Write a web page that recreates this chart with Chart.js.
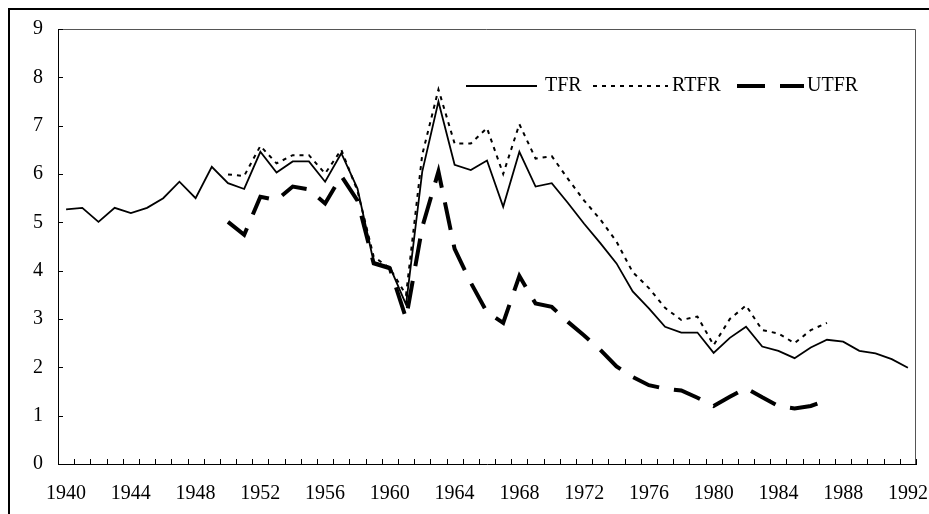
<!DOCTYPE html>
<html>
<head>
<meta charset="utf-8">
<script src="https://cdn.jsdelivr.net/npm/chart.js@4/dist/chart.umd.min.js"></script>
<style>
  html, body { margin: 0; padding: 0; background: #fff; overflow: hidden; }
  #wrap { position: relative; width: 929px; height: 514px; }
  #frame { position: absolute; left: 8px; top: 8px; width: 940px; height: 530px; border: 2px solid #000; box-sizing: border-box; }
  #chart { position: absolute; left: 0; top: 0; }
</style>
</head>
<body>
<div id="wrap">
  <div id="frame"></div>
  <canvas id="chart" width="929" height="514"></canvas>
</div>
<script>
var years = ['1940', '1941', '1942', '1943', '1944', '1945', '1946', '1947', '1948', '1949',
  '1950', '1951', '1952', '1953', '1954', '1955', '1956', '1957', '1958', '1959',
  '1960', '1961', '1962', '1963', '1964', '1965', '1966', '1967', '1968', '1969',
  '1970', '1971', '1972', '1973', '1974', '1975', '1976', '1977', '1978', '1979',
  '1980', '1981', '1982', '1983', '1984', '1985', '1986', '1987', '1988', '1989',
  '1990', '1991', '1992'];

var tfr = [5.27, 5.30, 5.01, 5.30, 5.19, 5.30, 5.50, 5.84, 5.50, 6.15,
  5.81, 5.69, 6.46, 6.03, 6.26, 6.26, 5.84, 6.43, 5.70, 4.18,
  4.08, 3.30, 6.05, 7.50, 6.19, 6.08, 6.28, 5.32, 6.46, 5.74,
  5.81, 5.40, 4.97, 4.57, 4.15, 3.57, 3.22, 2.84, 2.72, 2.72,
  2.30, 2.61, 2.84, 2.43, 2.34, 2.19, 2.41, 2.57, 2.53, 2.34,
  2.29, 2.17, 1.99];

var rtfr = [null, null, null, null, null, null, null, null, null, null,
  5.99, 5.96, 6.58, 6.22, 6.39, 6.39, 6.01, 6.50, 5.65, 4.29,
  4.05, 3.50, 6.40, 7.75, 6.63, 6.63, 6.95, 6.00, 7.03, 6.32,
  6.37, 5.90, 5.45, 5.06, 4.60, 3.97, 3.64, 3.23, 2.98, 3.05,
  2.46, 3.00, 3.28, 2.77, 2.70, 2.50, 2.77, 2.92, null, null,
  null, null, null];

var utfr = [null, null, null, null, null, null, null, null, null, null,
  5.01, 4.74, 5.53, 5.46, 5.74, 5.68, 5.39, 5.96, 5.45, 4.15,
  4.05, 3.01, 4.90, 6.05, 4.45, 3.75, 3.14, 2.92, 3.89, 3.32,
  3.25, 2.94, 2.66, 2.36, 2.02, 1.80, 1.63, 1.56, 1.52, 1.37,
  1.20, 1.39, 1.57, 1.38, 1.20, 1.15, 1.20, 1.32, null, null,
  null, null, null];

var seriesNames = ['TFR', 'RTFR', 'UTFR'];
var yTicks = [0, 1, 2, 3, 4, 5, 6, 7, 8, 9];

var fontFamily = "'Liberation Serif', 'Times New Roman', serif";

// plot box, inward tick marks and the in-plot legend
var decorations = {
  id: 'decorations',
  afterDraw: function (chart) {
    var ctx = chart.ctx;
    var area = chart.chartArea;
    var xs = chart.scales.x;
    var ys = chart.scales.y;
    ctx.save();
    ctx.strokeStyle = '#555';
    ctx.lineWidth = 1;
    ctx.beginPath();
    ctx.moveTo(area.left, area.top + 0.5);
    ctx.lineTo(area.right - 0.5, area.top + 0.5);
    ctx.lineTo(area.right - 0.5, area.bottom);
    ctx.stroke();

    ctx.strokeStyle = '#000';
    ctx.lineWidth = 1;
    ctx.beginPath();
    var step = xs.getPixelForValue(1) - xs.getPixelForValue(0);
    for (var i = 0; i <= years.length; i++) {
      var px = Math.round(xs.getPixelForValue(i) - step / 2) + 0.5;
      ctx.moveTo(px, area.bottom);
      ctx.lineTo(px, area.bottom - 5);
    }
    yTicks.forEach(function (v) {
      var py = Math.round(ys.getPixelForValue(v)) + 0.5;
      ctx.moveTo(area.left, py);
      ctx.lineTo(area.left + 5, py);
    });
    ctx.stroke();

    // legend
    var items = [
      { x: 466, len: 71, textX: 545 },
      { x: 593, len: 75, textX: 672 },
      { x: 737, len: 67, textX: 807 }
    ];
    var ly = 86;
    ctx.font = '20px ' + fontFamily;
    ctx.fillStyle = '#000';
    ctx.textBaseline = 'middle';
    items.forEach(function (it, idx) {
      var ds = chart.data.datasets[idx];
      ctx.strokeStyle = ds.borderColor;
      ctx.lineWidth = ds.borderWidth;
      ctx.setLineDash(ds.borderDash || []);
      ctx.lineCap = 'butt';
      ctx.beginPath();
      ctx.moveTo(it.x, ly);
      ctx.lineTo(it.x + it.len, ly);
      ctx.stroke();
      ctx.setLineDash([]);
      ctx.fillText(ds.label, it.textX, ly);
    });
    ctx.restore();
  }
};

var chart = new Chart(document.getElementById('chart'), {
  type: 'line',
  data: {
    labels: years,
    datasets: [
      {
        label: seriesNames[0],
        data: tfr,
        borderColor: '#000',
        borderWidth: 1.8,
        pointRadius: 0,
        tension: 0,
        fill: false
      },
      {
        label: seriesNames[1],
        data: rtfr,
        borderColor: '#000',
        borderWidth: 2,
        borderDash: [4, 5],
        pointRadius: 0,
        tension: 0,
        fill: false
      },
      {
        label: seriesNames[2],
        data: utfr,
        borderColor: '#000',
        borderWidth: 4,
        borderDash: [28, 15],
        borderCapStyle: 'butt',
        pointRadius: 0,
        tension: 0,
        fill: false
      }
    ]
  },
  options: {
    responsive: false,
    animation: false,
    events: [],
    layout: {
      padding: { left: 10, top: 29, right: 13, bottom: 0 }
    },
    plugins: {
      legend: { display: false },
      tooltip: { enabled: false }
    },
    scales: {
      x: {
        type: 'category',
        offset: true,
        grid: { display: false, drawTicks: false },
        border: { display: true, color: '#000', width: 1 },
        ticks: {
          autoSkip: false,
          minRotation: 0,
          maxRotation: 0,
          padding: 18,
          color: '#000',
          font: { family: fontFamily, size: 20 },
          callback: function (value) {
            var label = this.getLabelForValue(value);
            return (parseInt(label, 10) - 1940) % 4 === 0 ? label : '';
          }
        },
        afterFit: function (scale) {
          scale.height = 50;
          scale.paddingLeft = 0;
          scale.paddingRight = 0;
        }
      },
      y: {
        min: 0,
        max: 9,
        grid: { display: false, drawTicks: false },
        border: { display: true, color: '#000', width: 1 },
        ticks: {
          stepSize: 1,
          padding: 15,
          color: '#000',
          font: { family: fontFamily, size: 20 }
        },
        afterFit: function (scale) {
          scale.width = 48;
          scale.paddingTop = 0;
          scale.paddingBottom = 0;
        }
      }
    }
  },
  plugins: [decorations]
});
</script>
</body>
</html>
